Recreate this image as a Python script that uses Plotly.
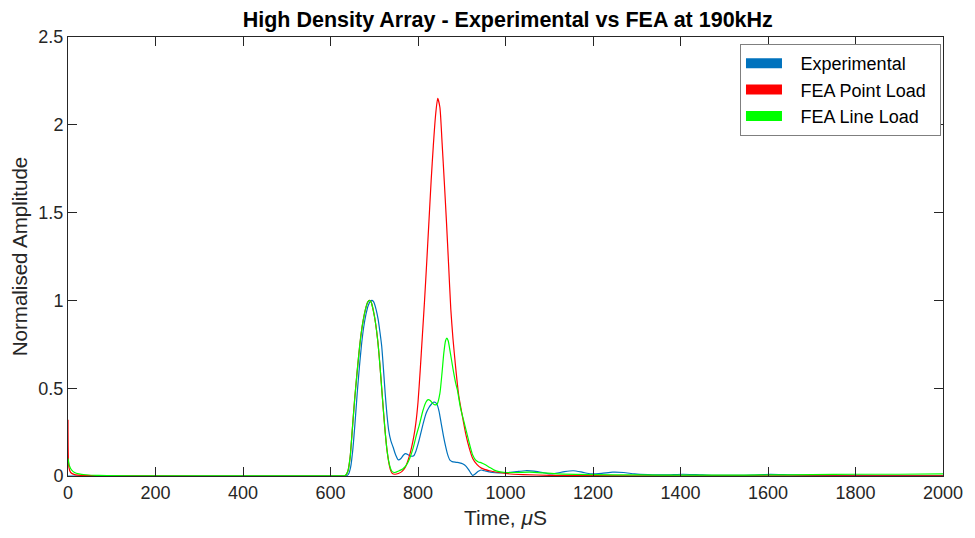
import plotly.graph_objects as go

# ---- Experimental signal (normalised envelope) ----
exp_t = [0, 100, 300, 500, 600, 635, 641, 646, 651, 656, 661, 666, 671, 676, 681, 686, 691, 695,
         699, 704, 709, 713, 717, 721, 725, 729, 733, 738, 743, 749, 755, 761, 767, 772, 778,
         784, 790, 795, 801, 807, 813, 819, 825, 831, 835, 839, 843, 848, 853, 858, 863, 868,
         873, 878, 887, 895, 903, 910, 916, 921, 925, 930, 937, 944, 952, 960, 970, 985, 1005,
         1025, 1045, 1065, 1085, 1100, 1115, 1135, 1155, 1175, 1195, 1220, 1245, 1270, 1295,
         1325, 1365, 1405, 1435, 1475, 1525, 1565, 1605, 1645, 1705, 1800, 1900, 2000]
exp_a = [0.0, 0.0, 0.0, 0.0, 0.0, 0.0, 0.01, 0.05, 0.15, 0.30, 0.47, 0.62, 0.75, 0.85, 0.92, 0.97,
         0.995, 1.0, 0.99, 0.95, 0.89, 0.82, 0.74, 0.61, 0.47, 0.35, 0.26, 0.20, 0.165, 0.12,
         0.092, 0.10, 0.12, 0.127, 0.12, 0.113, 0.115, 0.14, 0.19, 0.25, 0.31, 0.36, 0.39, 0.41,
         0.42, 0.42, 0.41, 0.37, 0.30, 0.23, 0.17, 0.12, 0.09, 0.082, 0.078, 0.075, 0.068, 0.055,
         0.035, 0.015, 0.003, 0.01, 0.025, 0.034, 0.03, 0.025, 0.02, 0.018, 0.02, 0.025, 0.03,
         0.028, 0.02, 0.012, 0.015, 0.025, 0.03, 0.022, 0.012, 0.015, 0.022, 0.02, 0.012, 0.008,
         0.006, 0.01, 0.008, 0.004, 0.003, 0.005, 0.009, 0.007, 0.004, 0.003, 0.002, 0.002]

# ---- FEA, point load ----
pt_t = [0, 2, 6, 15, 40, 100, 300, 600, 630, 635, 640, 645, 650, 655, 660, 665, 670, 675, 680,
        685, 689, 693, 698, 703, 708, 713, 717, 721, 725, 729, 733, 737, 741, 747, 755, 763,
        771, 781, 790, 795, 800, 805, 810, 815, 820, 825, 830, 835, 840, 845, 850, 855, 860,
        865, 870, 875, 880, 886, 893, 903, 910, 917, 925, 935, 945, 963, 985, 1005, 1040, 1100,
        1200, 1400, 1700, 2000]
pt_a = [0.32, 0.05, 0.02, 0.008, 0.003, 0.001, 0.0, 0.0, 0.0, 0.005, 0.03, 0.11, 0.27, 0.43,
        0.57, 0.70, 0.81, 0.89, 0.95, 0.99, 1.0, 0.99, 0.94, 0.87, 0.77, 0.63, 0.50, 0.37, 0.25,
        0.15, 0.08, 0.035, 0.015, 0.01, 0.014, 0.025, 0.05, 0.12, 0.22, 0.30, 0.42, 0.60, 0.80,
        1.0, 1.22, 1.45, 1.68, 1.88, 2.05, 2.15, 2.10, 1.90, 1.68, 1.45, 1.20, 0.95, 0.78, 0.62,
        0.46, 0.32, 0.23, 0.16, 0.10, 0.065, 0.045, 0.03, 0.02, 0.013, 0.008, 0.004, 0.002,
        0.001, 0.001, 0.001]

# ---- FEA, line load ----
ln_t = [0, 3, 8, 15, 25, 40, 70, 150, 400, 600, 630, 635, 640, 645, 650, 655, 660, 665, 670,
        675, 680, 685, 689, 693, 698, 703, 708, 713, 717, 721, 725, 729, 733, 737, 741, 747,
        757, 765, 773, 781, 789, 796, 804, 811, 818, 823, 828, 833, 839, 844, 850, 855, 859,
        863, 866, 869, 874, 880, 886, 890, 897, 905, 911, 918, 925, 932, 938, 945, 953, 963,
        973, 985, 1000, 1025, 1055, 1085, 1120, 1200, 1300, 1400, 1500, 1600, 1700, 1800, 1900,
        2000]
ln_a = [0.10, 0.06, 0.035, 0.02, 0.012, 0.007, 0.003, 0.001, 0.001, 0.001, 0.001, 0.006, 0.03,
        0.11, 0.27, 0.43, 0.57, 0.70, 0.81, 0.89, 0.95, 0.99, 1.0, 0.99, 0.94, 0.87, 0.77,
        0.63, 0.50, 0.37, 0.25, 0.15, 0.085, 0.045, 0.025, 0.02, 0.03, 0.04, 0.06, 0.10, 0.16,
        0.23, 0.30, 0.37, 0.42, 0.435, 0.43, 0.415, 0.405, 0.41, 0.47, 0.59, 0.70, 0.77, 0.785,
        0.77, 0.70, 0.61, 0.53, 0.49, 0.39, 0.31, 0.25, 0.18, 0.12, 0.09, 0.08, 0.075, 0.065,
        0.05, 0.035, 0.025, 0.02, 0.02, 0.022, 0.018, 0.012, 0.008, 0.006, 0.005, 0.005, 0.006,
        0.008, 0.01, 0.01, 0.012]

series_names = ["Experimental", "FEA Point Load", "FEA Line Load"]
series_colors = ["#0072BD", "#FF0000", "#00FF00"]
series_data = [(exp_t, exp_a), (pt_t, pt_a), (ln_t, ln_a)]

x_ticks = list(range(0, 2001, 200))
y_ticks = [0, 0.5, 1, 1.5, 2, 2.5]
y_tick_text = ["0", "0.5", "1", "1.5", "2", "2.5"]

FONT = "Liberation Sans, Arial, Helvetica, sans-serif"
AXCOL = "#262626"
NBSP = "\u00a0"
THIN = "\u2009"

fig = go.Figure()

for name, color, (t, a) in zip(series_names, series_colors, series_data):
    fig.add_trace(go.Scatter(
        x=t, y=a, mode="lines", name=name, showlegend=False,
        line=dict(color=color, width=1.2, shape="spline", smoothing=0.6),
        hoverinfo="skip",
    ))

# legend keys drawn as thick bars, with a little extra room around the labels
for i, (name, color) in enumerate(zip(series_names, series_colors)):
    fig.add_trace(go.Scatter(
        x=[None], y=[None], mode="lines",
        name=NBSP * 2 + THIN + name + NBSP + THIN,
        legendgroup=f"g{i}",
        line=dict(color=color, width=10),
    ))

axis_common = dict(
    showline=True, linecolor=AXCOL, linewidth=1, mirror="ticks",
    ticks="inside", ticklen=9, tickwidth=1, tickcolor=AXCOL,
    showgrid=False, zeroline=False,
    tickfont=dict(family=FONT, size=18, color=AXCOL),
)

fig.update_layout(
    width=975, height=538,
    margin=dict(l=68, r=27, t=37, b=62),
    paper_bgcolor="white", plot_bgcolor="white",
    font=dict(family=FONT, color=AXCOL),
    title=dict(
        text="<b>High Density Array - Experimental vs FEA at 190kHz</b>",
        x=0.5208, xanchor="center", y=0.963, yanchor="middle",
        font=dict(family=FONT, size=21.5, color="#000000"),
    ),
    xaxis=dict(
        range=[0, 2000], tickvals=x_ticks,
        title=dict(text="Time, <i>μ</i>S", font=dict(family=FONT, size=21, color=AXCOL), standoff=8),
        **axis_common,
    ),
    yaxis=dict(
        range=[0, 2.5], tickvals=y_ticks, ticktext=y_tick_text,
        title=dict(text="Normalised Amplitude", font=dict(family=FONT, size=20.5, color=AXCOL), standoff=5),
        **axis_common,
    ),
    legend=dict(
        x=0.9977, xanchor="right", y=0.984, yanchor="top",
        bgcolor="white", bordercolor="#7f7f7f", borderwidth=1,
        font=dict(family=FONT, size=18, color="#000000"),
        tracegroupgap=0, itemwidth=36,
    ),
)

fig.write_html("out.html")
